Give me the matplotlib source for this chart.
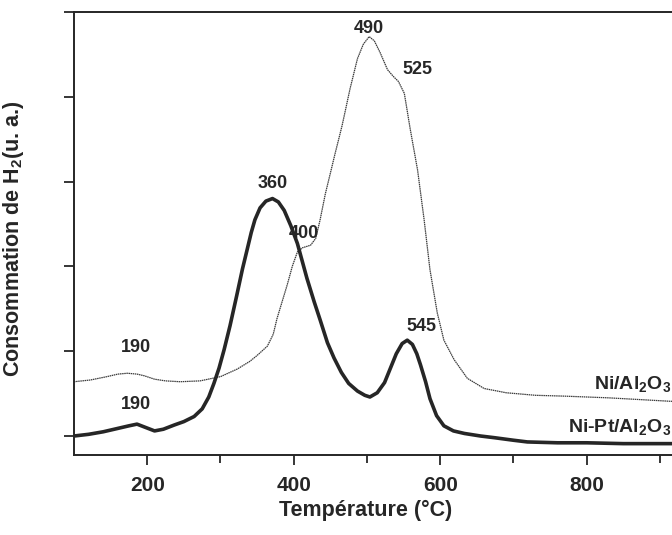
import matplotlib
matplotlib.use('Agg')
import matplotlib.pyplot as plt

plt.rcParams['font.family'] = ['Liberation Sans', 'DejaVu Sans']
plt.rcParams['font.weight'] = 'bold'
plt.rcParams['mathtext.fontset'] = 'custom'
plt.rcParams['mathtext.rm'] = 'Liberation Sans:bold'
plt.rcParams['mathtext.bf'] = 'Liberation Sans:bold'
plt.rcParams['mathtext.it'] = 'Liberation Sans:bold'

# Ni-Pt/Al2O3 (thick curve)
temp_nipt = [100, 120, 140, 160, 175, 186, 198, 210, 222, 237, 250, 264, 275, 284,
             291, 298, 305, 313, 322, 330, 337, 342, 347, 354, 362, 371, 379, 387, 396,
             405, 418, 428, 436, 446, 455, 465, 475, 487, 497, 504, 514, 524, 532,
             540, 548, 555, 562, 568, 573, 580, 586, 595, 605, 618, 633, 655, 674,
             700, 719, 760, 800, 850, 950]
h2_nipt = [0.00, 0.02, 0.05, 0.09, 0.12, 0.14, 0.10, 0.06, 0.08, 0.13, 0.17, 0.23, 0.32, 0.46,
           0.62, 0.80, 1.02, 1.30, 1.65, 1.97, 2.22, 2.40, 2.55, 2.69, 2.77, 2.80, 2.76, 2.66, 2.48,
           2.27, 1.86, 1.58, 1.37, 1.10, 0.92, 0.75, 0.62, 0.53, 0.48, 0.46, 0.51, 0.63, 0.80,
           0.97, 1.09, 1.13, 1.08, 0.97, 0.84, 0.64, 0.44, 0.24, 0.12, 0.06, 0.03, 0.00, -0.02,
           -0.05, -0.07, -0.08, -0.08, -0.09, -0.09]

# Ni/Al2O3 (thin curve)
temp_ni = [100, 122, 145, 160, 173, 186, 196, 210, 225, 245, 272, 300, 323, 340, 350,
           364, 372, 377, 384, 391, 398, 405, 412, 423, 430, 436, 443, 450, 457, 466,
           477, 487, 495, 503, 510, 518, 528, 536, 543, 551, 559, 569, 578, 586, 596,
           605, 619, 637, 660, 690, 730, 770, 830, 913, 950]
h2_ni = [0.64, 0.66, 0.70, 0.73, 0.74, 0.73, 0.71, 0.67, 0.65, 0.64, 0.65, 0.70, 0.79, 0.88, 0.95,
         1.06, 1.20, 1.38, 1.58, 1.78, 2.00, 2.17, 2.22, 2.25, 2.33, 2.55, 2.85, 3.10, 3.35, 3.66,
         4.10, 4.45, 4.62, 4.71, 4.66, 4.52, 4.32, 4.24, 4.18, 4.04, 3.62, 3.14, 2.55, 1.96, 1.45,
         1.13, 0.90, 0.68, 0.56, 0.51, 0.48, 0.47, 0.45, 0.41, 0.40]

# peak annotations: text, x, y
peak_labels = ['490', '525', '360', '400', '545', '190', '190']
peak_x = [503, 569, 371, 414, 575, 185, 185]
peak_y = [4.81, 4.32, 2.98, 2.39, 1.29, 1.04, 0.37]

xticks_major = [200, 400, 600, 800]
xticks_minor = [300, 500, 700, 900]

ink = '#262626'

fig = plt.figure(figsize=(6.72, 5.35), dpi=100)
ax = fig.add_axes([74 / 672, 80 / 535, 622.6 / 672, 443 / 535])

ax.plot(temp_ni, h2_ni, color='#3a3a3a', lw=0.9, linestyle=(0, (1.2, 0.5)))
ax.plot(temp_nipt, h2_nipt, color=ink, lw=2.6)

for txt, x, y in zip(peak_labels, peak_x, peak_y):
    ax.text(x, y, txt, ha='center', va='center', fontsize=13, fontweight='bold', color=ink)

# sample names, right-aligned on the figure edge
fig.text(0.998, 1 - 384 / 535, r'Ni/Al$_{\mathbf{2}}$O$_{\mathbf{3}}$',
         ha='right', va='center', fontsize=14, color=ink)
fig.text(0.998, 1 - 427 / 535, r'Ni-Pt/Al$_{\mathbf{2}}$O$_{\mathbf{3}}$',
         ha='right', va='center', fontsize=14, color=ink)

ax.set_xlim(100, 950)
ax.set_ylim(-0.224, 5.0)
ax.set_xticks(xticks_major)
ax.set_xticks(xticks_minor, minor=True)
ax.set_yticks([0, 1, 2, 3, 4, 5])
ax.set_yticklabels([])
ax.tick_params(axis='x', which='major', direction='out', length=7, width=1.3,
               labelsize=15, pad=8, colors=ink)
ax.tick_params(axis='x', which='minor', direction='out', length=6, width=1.3, colors=ink)
ax.tick_params(axis='y', direction='out', length=7, width=1.3, colors=ink)
for lab in ax.get_xticklabels():
    lab.set_fontweight('bold')

ax.spines['right'].set_visible(False)
for s in ['left', 'bottom', 'top']:
    ax.spines[s].set_linewidth(1.4)
    ax.spines[s].set_color(ink)

ax.set_xlabel('Température (°C)', fontsize=15.5, fontweight='bold', color=ink)
ax.xaxis.set_label_coords((366 - 74) / 622.6, -(500 - 455) / 443)
ax.set_ylabel(r'Consommation de H$_{\mathbf{2}}$(u. a.)', fontsize=15.5,
              fontweight='bold', color=ink)
ax.yaxis.set_label_coords(-(74 - 26) / 622.6, (455 - 239) / 443)

fig.savefig('out.png', dpi=100)
